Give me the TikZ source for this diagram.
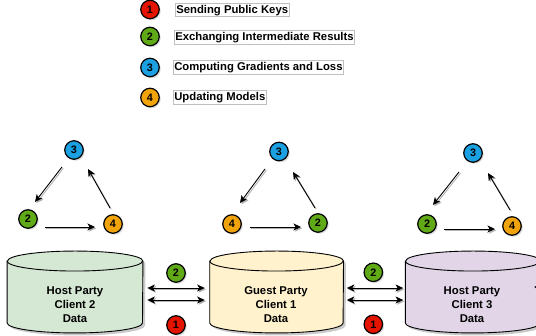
\documentclass[tikz,border=0pt]{standalone}
\usepackage{fontspec}
\setmainfont{Liberation Sans}
\usetikzlibrary{arrows.meta,shadows,calc}
\definecolor{cred}{HTML}{E51400}
\definecolor{cgreen}{HTML}{60A917}
\definecolor{cblue}{HTML}{1BA1E2}
\definecolor{corange}{HTML}{F0A30A}
\definecolor{cylgreen}{HTML}{D5E8D4}
\definecolor{cylyellow}{HTML}{FFF2CC}
\definecolor{cylpurple}{HTML}{E1D5E7}
\newcommand\cylshape[3]{%
  \fill[black!35, opacity=0.6, transform canvas={xshift=2.5pt,yshift=-2.5pt}]
    ([yshift=-10pt]#1.north west) -- ([yshift=10pt]#1.south west)
    arc[start angle=180,end angle=360,x radius=#3,y radius=10pt]
    -- ([yshift=-10pt]#1.north east)
    arc[start angle=0,end angle=180,x radius=#3,y radius=10pt] -- cycle;
  \draw[fill=#2, line width=0.9pt]
    ([yshift=-10pt]#1.north west) -- ([yshift=10pt]#1.south west)
    arc[start angle=180,end angle=360,x radius=#3,y radius=10pt]
    -- ([yshift=-10pt]#1.north east)
    arc[start angle=0,end angle=180,x radius=#3,y radius=10pt] -- cycle;
  \draw[line width=0.9pt] ([yshift=-10pt]#1.north west)
    arc[start angle=180,end angle=360,x radius=#3,y radius=10pt];
}
\begin{document}
\begin{tikzpicture}[x=1pt,y=1pt,
  badge/.style={circle, draw=black, line width=1.2pt, minimum size=18.5pt, inner sep=0pt,
    font=\fontsize{10.8}{11}\selectfont\bfseries,
    drop shadow={shadow xshift=1.5pt, shadow yshift=-1.5pt, opacity=0.3}},
  legtext/.style={draw=black!25, line width=0.6pt, anchor=west, inner sep=1pt,
    font=\fontsize{11.3}{13}\selectfont\bfseries, text height=9pt, text depth=2.5pt},
  tipstyle/.tip={Stealth[length=7.5pt,width=7pt,inset=2pt]},
  flow/.style={line width=0.9pt, -tipstyle,
    preaction={draw=black!30, line width=0.9pt, transform canvas={xshift=1.3pt,yshift=-1.3pt}}},
  both/.style={flow, tipstyle-tipstyle},
  cylbox/.style={minimum height=81.5pt, inner sep=0pt},
  cyltext/.style={align=center, font=\fontsize{11.3}{14}\selectfont\bfseries}]
\useasboundingbox (0,0) rectangle (536,336);

% legend
\node[badge, fill=cred] (L1) at (150,326.5) {1};
\node[badge, fill=cgreen] (L2) at (150,299.5) {2};
\node[badge, fill=cblue] (L3) at (150,268.5) {3};
\node[badge, fill=corange] (L4) at (150,238.5) {4};
\node[legtext] (T1) at (175,326) {Sending Public Keys};
\node[legtext] (T2) at (174,298.5) {Exchanging Intermediate Results};
\node[legtext] (T3) at (173,268.5) {Computing Gradients and Loss};
\node[legtext] (T4) at (173,238.5) {Updating Models};

% cylinders
\node[cylbox, minimum width=135.4pt] (H2box) at (75,44) {};
\node[cylbox, minimum width=133.4pt] (G1box) at (276.6,44) {};
\node[cylbox, minimum width=135pt] (H3box) at (473,44) {};
\cylshape{H2box}{cylgreen}{67.7pt}
\cylshape{G1box}{cylyellow}{66.7pt}
\cylshape{H3box}{cylpurple}{67.5pt}
\node[cyltext] (H2) at (75,31) {Host Party\\Client 2\\Data};
\node[cyltext] (G1) at (276,31) {Guest Party\\Client 1\\Data};
\node[cyltext] (H3) at (472,31) {Host Party\\Client 3\\Data};

% arrows between cylinders
\draw[both, shorten <=4.5pt, shorten >=5pt] ([yshift=4pt]H2box.east) -- ([yshift=4pt]G1box.west);
\draw[both, shorten <=4.5pt, shorten >=5pt] ([yshift=-8pt]H2box.east) -- ([yshift=-8pt]G1box.west);
\draw[both, shorten <=3.3pt, shorten >=2.2pt] ([yshift=4pt]G1box.east) -- ([yshift=4pt]H3box.west);
\draw[both, shorten <=3.3pt, shorten >=2.2pt] ([yshift=-8pt]G1box.east) -- ([yshift=-8pt]H3box.west);
\coordinate (offR) at (560,49);
\coordinate (tipR) at (534,49);
\draw[flow] (offR) -- (tipR);

\node[badge, fill=cgreen] (E2) at (176,63) {2};
\node[badge, fill=cred] (E1) at (176,11) {1};
\node[badge, fill=cgreen] (F2) at (373.3,63.7) {2};
\node[badge, fill=cred] (F1) at (373.3,11.7) {1};

% left triangle
\node[badge, fill=cblue] (A3) at (74,186) {3};
\node[badge, fill=cgreen] (A2) at (28,117) {2};
\node[badge, fill=corange] (A4) at (113,112) {4};
\draw[flow] ($(A3)+(-12,-17)$) -- ($(A2)+(7,17)$);
\draw[flow] ($(A2)+(17,-8)$) -- ($(A4)+(-18,-3)$);
\draw[flow] ($(A4)+(-3,16)$) -- ($(A3)+(14,-19)$);

% middle triangle
\node[badge, fill=cblue] (B3) at (279,184.5) {3};
\node[badge, fill=corange] (B4) at (232,112) {4};
\node[badge, fill=cgreen] (B2) at (318,113) {2};
\draw[flow] ($(B3)+(-14,-17.5)$) -- ($(B4)+(8,21)$);
\draw[flow] ($(B4)+(18,-3)$) -- ($(B2)+(-17,-4)$);
\draw[flow] ($(B2)+(-3,15)$) -- ($(B3)+(14,-20.5)$);

% right triangle
\node[badge, fill=cblue] (C3) at (473,183) {3};
\node[badge, fill=cgreen] (C2) at (427,112) {2};
\node[badge, fill=corange] (C4) at (512,110) {4};
\draw[flow] ($(C3)+(-14,-19)$) -- ($(C2)+(6,19)$);
\draw[flow] ($(C2)+(17,-5)$) -- ($(C4)+(-17,-3)$);
\draw[flow] ($(C4)+(-2,16)$) -- ($(C3)+(15,-20)$);
\end{tikzpicture}
\end{document}
